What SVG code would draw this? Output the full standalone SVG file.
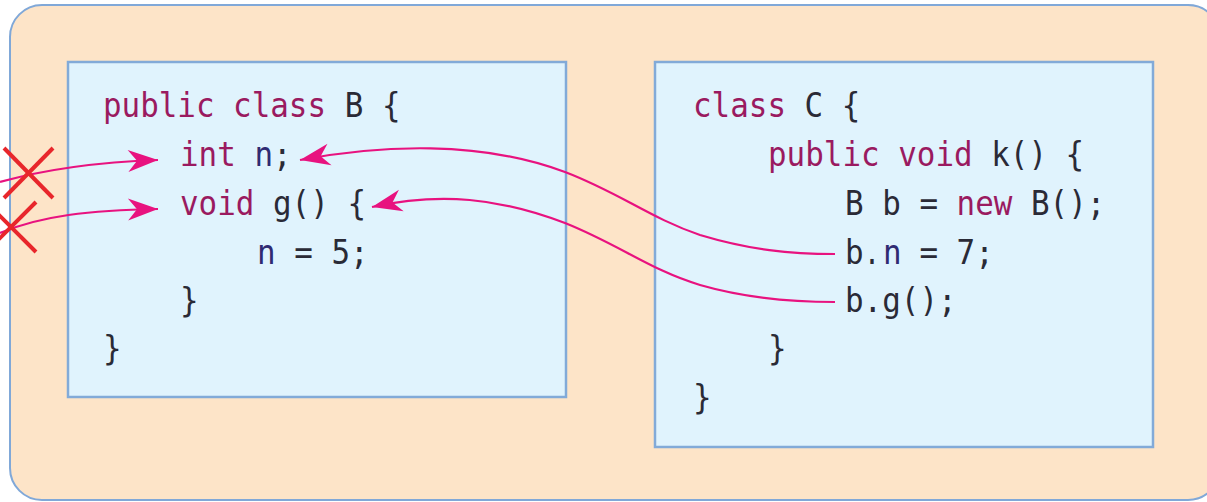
<svg xmlns="http://www.w3.org/2000/svg" width="1207" height="502" viewBox="0 0 1207 502">
<style>
.code{font-family:"DejaVu Sans Mono","Liberation Mono",monospace;font-size:34px;fill:#2a2a36}
.kw{fill:#9a1a60}
.id{fill:#2f2a72}
.box{fill:#e0f3fd;stroke:#82aad8;stroke-width:2.5}
.conn{fill:none;stroke:#e8127f;stroke-width:2.2}
.cross{stroke:#e8262b;stroke-width:4;stroke-linecap:butt}
</style>
<defs>
<marker id="ah" markerUnits="userSpaceOnUse" markerWidth="40" markerHeight="30" viewBox="-32 -15 40 30" refX="0" refY="0" orient="auto">
<path d="M0,0 L-30,-11 L-21,0 L-30,11 Z" fill="#e8127f"/>
</marker>
</defs>
<rect id="outer" x="10" y="5" width="1210" height="495" rx="32" fill="#fde4c8" stroke="#80a8d8" stroke-width="2"/>
<g id="classB">
<rect class="box" x="68" y="62" width="498" height="335"/>
<text class="code kw" x="103" y="117" textLength="223" lengthAdjust="spacingAndGlyphs">public class</text>
<text class="code" x="344.8" y="117" textLength="55.8" lengthAdjust="spacingAndGlyphs">B {</text>
<text class="code kw" x="180" y="166" textLength="55.8" lengthAdjust="spacingAndGlyphs">int</text>
<text class="code id" x="254.4" y="166" textLength="18.6" lengthAdjust="spacingAndGlyphs">n</text>
<text class="code" x="273" y="166" textLength="18.6" lengthAdjust="spacingAndGlyphs">;</text>
<text class="code kw" x="180" y="215" textLength="74.4" lengthAdjust="spacingAndGlyphs">void</text>
<text class="code" x="273" y="215" textLength="93" lengthAdjust="spacingAndGlyphs">g() {</text>
<text class="code id" x="257" y="264" textLength="18.6" lengthAdjust="spacingAndGlyphs">n</text>
<text class="code" x="294.2" y="264" textLength="74.4" lengthAdjust="spacingAndGlyphs">= 5;</text>
<text class="code" x="180" y="312" textLength="18.6" lengthAdjust="spacingAndGlyphs">}</text>
<text class="code" x="103" y="360" textLength="18.6" lengthAdjust="spacingAndGlyphs">}</text>
</g>
<g id="classC">
<rect class="box" x="655" y="62" width="498" height="385"/>
<text class="code kw" x="693" y="117" textLength="93" lengthAdjust="spacingAndGlyphs">class</text>
<text class="code" x="804.6" y="117" textLength="55.8" lengthAdjust="spacingAndGlyphs">C {</text>
<text class="code kw" x="768" y="166" textLength="204.6" lengthAdjust="spacingAndGlyphs">public void</text>
<text class="code" x="991.2" y="166" textLength="93" lengthAdjust="spacingAndGlyphs">k() {</text>
<text class="code" x="845" y="215" textLength="93" lengthAdjust="spacingAndGlyphs">B b =</text>
<text class="code kw" x="956.6" y="215" textLength="55.8" lengthAdjust="spacingAndGlyphs">new</text>
<text class="code" x="1031" y="215" textLength="74.4" lengthAdjust="spacingAndGlyphs">B();</text>
<text class="code" x="845" y="264" textLength="18.6" lengthAdjust="spacingAndGlyphs">b</text>
<text class="code" x="864" y="264" textLength="16" lengthAdjust="spacingAndGlyphs">.</text>
<text class="code id" x="883" y="264" textLength="18.6" lengthAdjust="spacingAndGlyphs">n</text>
<text class="code" x="919.4" y="264" textLength="74.4" lengthAdjust="spacingAndGlyphs">= 7;</text>
<text class="code" x="845" y="312" textLength="111.6" lengthAdjust="spacingAndGlyphs">b.g();</text>
<text class="code" x="768" y="360" textLength="18.6" lengthAdjust="spacingAndGlyphs">}</text>
<text class="code" x="693" y="409" textLength="18.6" lengthAdjust="spacingAndGlyphs">}</text>
</g>
<g id="connectors">
<path class="conn" d="M0,182 C50,168 100,162 158,160" marker-end="url(#ah)"/>
<path class="conn" d="M0,233 C40,216 90,210 158,209" marker-end="url(#ah)"/>
<path class="conn" d="M835,254 C790,254 750,250 700,235 C650,218 620,193 565,172 C480,140 380,145 300,160" marker-end="url(#ah)"/>
<path class="conn" d="M835,302 C790,302 745,298 700,285 C650,270 620,245 565,223 C500,198 440,192 372,207" marker-end="url(#ah)"/>
</g>
<g id="crosses">
<line class="cross" x1="4" y1="148" x2="53" y2="198"/>
<line class="cross" x1="53" y1="148" x2="4" y2="198"/>
<line class="cross" x1="-14" y1="202" x2="36" y2="252"/>
<line class="cross" x1="36" y1="202" x2="-14" y2="252"/>
</g>
</svg>
